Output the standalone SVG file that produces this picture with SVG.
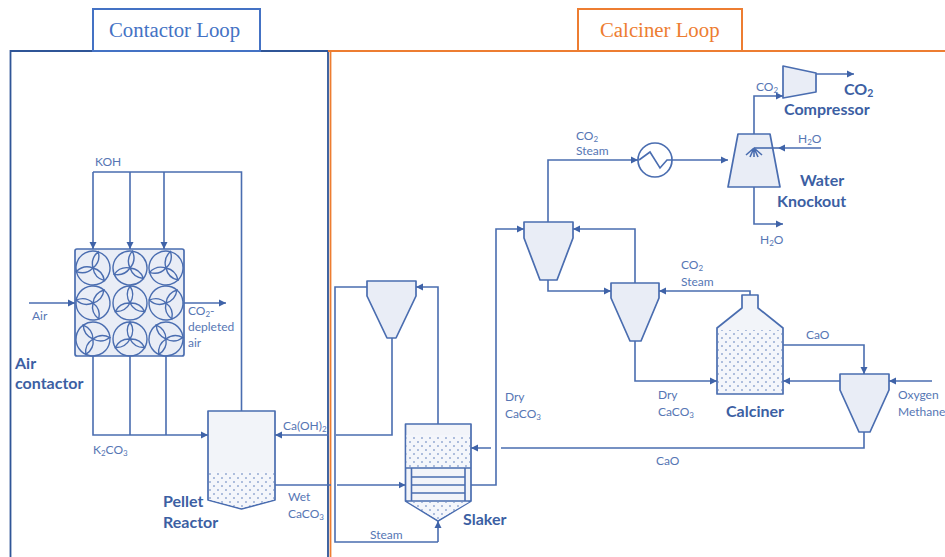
<svg xmlns="http://www.w3.org/2000/svg" xmlns:xlink="http://www.w3.org/1999/xlink" width="945" height="557" viewBox="0 0 945 557">
<style>
.l{font:12px Lato,"Liberation Sans",sans-serif;fill:#5676b4}
.b{font:bold 16px Lato,"Liberation Sans",sans-serif;fill:#3c5fa3}
.t{font:20.8px "Liberation Serif",serif}
.s{font-size:8px}
.c{fill:none;stroke:#4a6db0;stroke-width:1.6}
.a{marker-end:url(#arr)}
.e{fill:#e9edf6;stroke:#4a6db0;stroke-width:1.7;stroke-linejoin:round}
.p{fill:#f2f4f9;stroke:#4a6db0;stroke-width:1.7;stroke-linejoin:round}
.d{fill:url(#dots);stroke:none}
.f{fill:none;stroke:#4a6db0;stroke-width:1.4}
</style>
<defs>
<marker id="arr" markerUnits="userSpaceOnUse" markerWidth="8" markerHeight="8" refX="7" refY="4" orient="auto"><path d="M0 0.5L7 4L0 7.5Z" fill="#3f63a8"/></marker>
<pattern id="dots" width="8" height="8" patternUnits="userSpaceOnUse"><rect width="8" height="8" fill="#f4f6fb"/><circle cx="2" cy="2" r="0.95" fill="#8fa5d0"/><circle cx="6" cy="6" r="0.95" fill="#8fa5d0"/></pattern>
<g id="fan"><circle r="17" fill="none" stroke="#4a6db0" stroke-width="1.4"/><g id="bl"><path class="f" d="M0 0Q5.500 -8.500 0 -17Q-5.500 -8.500 0 0"/></g><use xlink:href="#bl" href="#bl" transform="rotate(120)"/><use xlink:href="#bl" href="#bl" transform="rotate(240)"/></g>
</defs>
<rect width="945" height="557" fill="#fff"/>
<g id="frames">
<path d="M10.5 557V51H328V557" fill="none" stroke="#2f5597" stroke-width="1.8"/>
<path d="M328 51H945M330.500 51V557" fill="none" stroke="#ed7d31" stroke-width="1.8"/>
</g>
<g id="contactor-loop-label"><rect x="93" y="9" width="167" height="42" fill="#fff" stroke="#4472c4" stroke-width="2"/><text class="t" x="109" y="37" fill="#4472c4">Contactor Loop</text></g>
<g id="calciner-loop-label"><rect x="578" y="9" width="164" height="42" fill="#fff" stroke="#ed7d31" stroke-width="2"/><text class="t" x="600" y="37" fill="#ed7d31">Calciner Loop</text></g>
<g id="air-contactor">
<rect x="75" y="249" width="109" height="107" rx="2" class="e"/>
<use xlink:href="#fan" href="#fan" transform="translate(93 268) rotate(18)"/>
<use xlink:href="#fan" href="#fan" transform="translate(130 268) rotate(8)"/>
<use xlink:href="#fan" href="#fan" transform="translate(166 268) rotate(15)"/>
<use xlink:href="#fan" href="#fan" transform="translate(93 303) rotate(40)"/>
<use xlink:href="#fan" href="#fan" transform="translate(130 303) rotate(0)"/>
<use xlink:href="#fan" href="#fan" transform="translate(166 303) rotate(40)"/>
<use xlink:href="#fan" href="#fan" transform="translate(93 339) rotate(-35)"/>
<use xlink:href="#fan" href="#fan" transform="translate(130 339) rotate(0)"/>
<use xlink:href="#fan" href="#fan" transform="translate(166 339) rotate(-35)"/>
<text class="b" x="15" y="369">Air</text><text class="b" x="15" y="389">contactor</text>
</g>
<g id="pellet-reactor">
<path class="p" d="M208 411H275V500L241.500 509L208 500Z"/>
<path class="d" d="M209 472H274V499.500L241.500 508L209 499.500Z"/>
<text class="b" x="163" y="507">Pellet</text><text class="b" x="163" y="528">Reactor</text>
</g>
<g id="slaker-cyclone"><path class="e" d="M367 281H416V296L396 338H387L367 296Z"/></g>
<g id="slaker">
<path class="p" d="M405.500 424H471V501L438 521L405.500 501Z"/>
<rect x="406.500" y="435" width="63.500" height="33" class="d"/>
<path class="d" d="M408 502H469L438 520Z"/>
<path class="c" d="M405.500 468H471M411.500 468V501M465 468V501M411.500 477H465M411.500 485H465M411.500 493H465M405.500 501H471"/>
<text class="b" x="463" y="525">Slaker</text>
</g>
<g id="cyclone-1"><path class="e" d="M524 222H573V238L557 280H540L524 238Z"/></g>
<g id="cyclone-2"><path class="e" d="M611 283H659V298L641 341H630L611 298Z"/></g>
<g id="cyclone-3"><path class="e" d="M840 374H889V390L870 432H859L840 390Z"/></g>
<g id="calciner">
<path class="p" d="M742 295H758V308L783 328V394H717V328L742 308Z"/>
<rect x="718" y="330" width="64" height="63" class="d"/>
<text class="b" x="726" y="417">Calciner</text>
</g>
<g id="heat-exchanger"><circle cx="655" cy="160" r="17" fill="#fff" stroke="#4a6db0" stroke-width="1.7"/><path class="c" d="M639 160L650 152L660 168L667 160H672"/></g>
<g id="water-knockout">
<path class="e" d="M738 134H770L780 187H728Z"/>
<path class="c" d="M754 148L746 155M754 148L750 157M754 148V157M754 148L758 157M754 148L762 155"/>
<text class="b" x="800" y="186">Water</text><text class="b" x="777" y="207">Knockout</text>
</g>
<g id="compressor"><path class="e" d="M783 66L816 73V92L783 98Z"/><text class="b" x="784" y="115">Compressor</text></g>
<g id="connectors">
<path class="c" d="M241.500 411V172H93"/>
<path class="c a" d="M93 172V249"/><path class="c a" d="M130 172V249"/><path class="c a" d="M164 172V249"/>
<path class="c a" d="M29 303H75"/><path class="c a" d="M184 303H226"/>
<path class="c" d="M130 356V435M166 356V435"/><path class="c a" d="M93 356V435H208"/>
<path class="c" d="M392 338V435H336"/><path class="c a" d="M329 435H275"/>
<path class="c" d="M275 485H331"/><path class="c a" d="M337 485H405.500"/>
<path class="c" d="M367 287H335V542H438"/><path class="c a" d="M438 542V521"/>
<path class="c a" d="M438 424V287H416"/>
<path class="c a" d="M864 432V448H471"/>
<rect x="491" y="445" width="10" height="6" fill="#fff"/>
<path class="c a" d="M471 485H496V229H524"/>
<path class="c a" d="M548 222V160H638"/><path class="c a" d="M672 160H728"/>
<path class="c a" d="M754 134V96H783"/><path class="c a" d="M816 74H854"/>
<path class="c a" d="M821 148H778"/><path class="c" d="M778 148H754"/><path class="c a" d="M754 187V224H783"/>
<path class="c a" d="M635 283V229H573"/><path class="c a" d="M548 280V291H611"/>
<path class="c a" d="M750 295V291H659"/><path class="c a" d="M635 341V381H717"/>
<path class="c a" d="M783 345H864V374"/><path class="c a" d="M840 381H783"/><path class="c a" d="M932 381H889"/>
</g>
<g id="labels">
<text class="l" x="95" y="166">KOH</text>
<text class="l" x="32" y="320">Air</text>
<text class="l" x="188" y="315">CO<tspan class="s" dy="2">2</tspan><tspan dy="-2">-</tspan></text>
<text class="l" x="188" y="331">depleted</text><text class="l" x="188" y="347">air</text>
<text class="l" x="93" y="454">K<tspan class="s" dy="2">2</tspan><tspan dy="-2">CO</tspan><tspan class="s" dy="2">3</tspan></text>
<text class="l" x="283" y="430">Ca(OH)<tspan class="s" dy="2">2</tspan></text>
<text class="l" x="288" y="501">Wet</text><text class="l" x="288" y="518">CaCO<tspan class="s" dy="2">3</tspan></text>
<text class="l" x="370" y="539">Steam</text>
<text class="l" x="505" y="401">Dry</text><text class="l" x="505" y="418">CaCO<tspan class="s" dy="2">3</tspan></text>
<text class="l" x="658" y="399">Dry</text><text class="l" x="658" y="416">CaCO<tspan class="s" dy="2">3</tspan></text>
<text class="l" x="656" y="465">CaO</text><text class="l" x="806" y="339">CaO</text>
<text class="l" x="898" y="399">Oxygen</text><text class="l" x="898" y="416">Methane</text>
<text class="l" x="681" y="269">CO<tspan class="s" dy="2">2</tspan></text><text class="l" x="681" y="286">Steam</text>
<text class="l" x="576" y="140">CO<tspan class="s" dy="2">2</tspan></text><text class="l" x="576" y="155">Steam</text>
<text class="l" x="756" y="91">CO<tspan class="s" dy="2">2</tspan></text>
<text class="l" x="798" y="143">H<tspan class="s" dy="2">2</tspan><tspan dy="-2">O</tspan></text>
<text class="l" x="760" y="244">H<tspan class="s" dy="2">2</tspan><tspan dy="-2">O</tspan></text>
<text class="b" x="844" y="95">CO<tspan font-size="10.500" dy="2">2</tspan></text>
</g>
</svg>
